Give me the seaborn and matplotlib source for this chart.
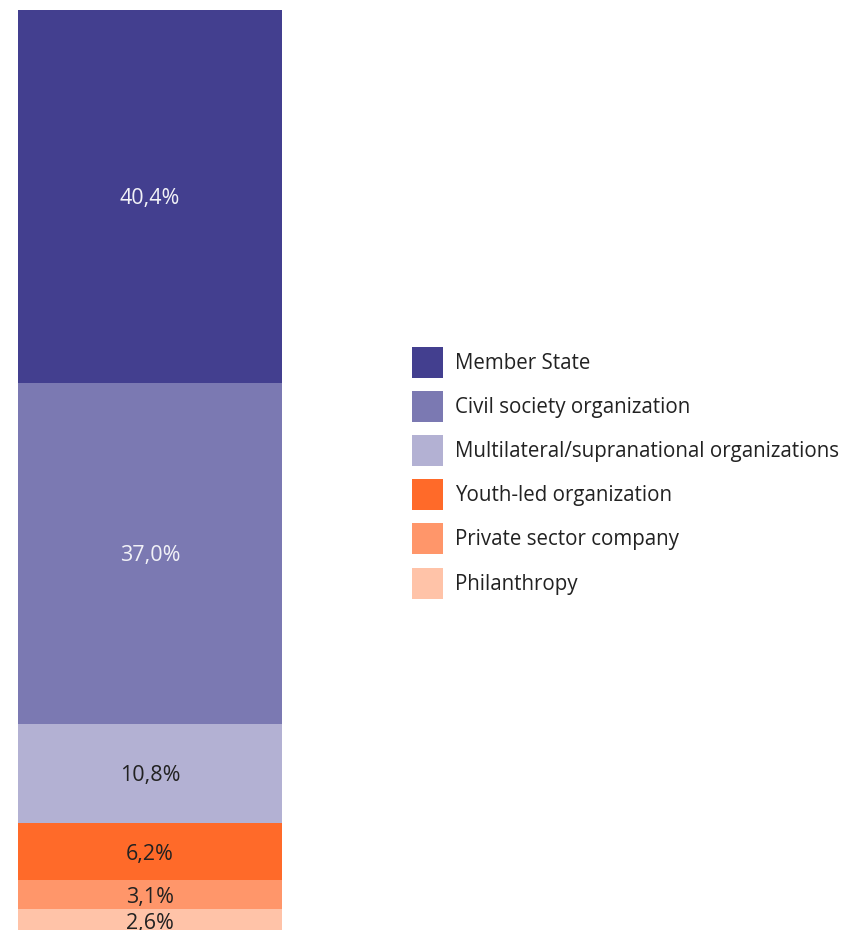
import matplotlib
matplotlib.use("Agg")
import matplotlib.pyplot as plt
import seaborn as sns
from matplotlib.patches import Patch

# Veriler
kategoriler = ["Member State", "Civil society organization",
               "Multilateral/supranational organizations", "Youth-led organization",
               "Private sector company", "Philanthropy"]
yuzdeler = [40.4, 37.0, 10.8, 6.2, 3.1, 2.6]
etiketler = ["40,4%", "37,0%", "10,8%", "6,2%", "3,1%", "2,6%"]
renkler = ["#433F8F", "#7B79B2", "#B3B1D3", "#FF6A29", "#FF966A", "#FFC3A8"]
yazi_renkleri = ["#F2F2F7", "#F2F2F7", "#222222", "#222222", "#222222", "#222222"]

sns.set_style("white")
plt.rcParams['font.family'] = ['Open Sans', 'DejaVu Sans']

fig = plt.figure(figsize=(8.43, 9.30), dpi=100)
ax = fig.add_axes([18 / 843, -3 / 930, 264 / 843, 923 / 930])

# Yığılmış tek sütun: en alttan başlayarak çiz
toplam = sum(yuzdeler)
alt = toplam
for deger, renk, etiket, yrenk in zip(yuzdeler, renkler, etiketler, yazi_renkleri):
    alt -= deger
    sns.barplot(x=[0], y=[deger], bottom=alt, color=renk, width=1.0,
                saturation=1, ax=ax, linewidth=0)
    ax.text(0, alt + deger / 2, etiket, ha='center', va='center_baseline',
            fontsize=15.5, color=yrenk)

ax.set_xlim(-0.5, 0.5)
ax.set_ylim(0, toplam)
ax.axis('off')

handles = [Patch(facecolor=r, edgecolor='none') for r in renkler]
fig.legend(handles, kategoriler, loc='upper left',
           bbox_to_anchor=(412 / 843, 1 - 347 / 930), frameon=False,
           fontsize=14.8, handlelength=1.5, handleheight=1.94,
           handletextpad=0.57, labelspacing=0.64, borderpad=0,
           borderaxespad=0, labelcolor='#222222')

fig.savefig("out.png", dpi=100)
